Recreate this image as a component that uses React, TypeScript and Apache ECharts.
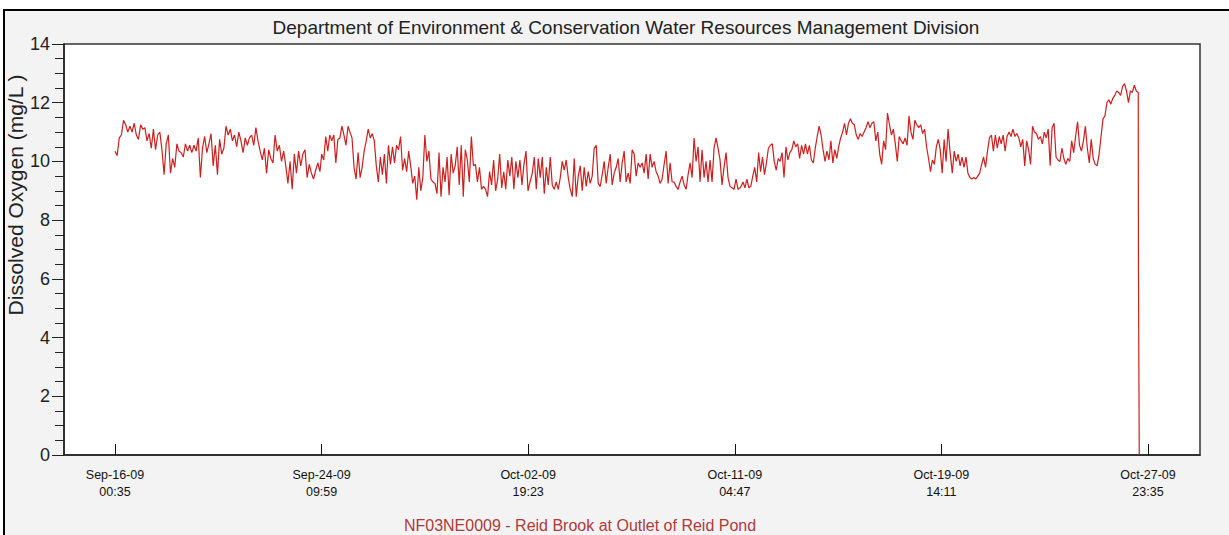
import React, { useEffect, useRef } from "react";
import * as echarts from "echarts";

// Tick labels on the time axis (hours since Sep-16-09 00:35)
const tickLabels = [
  "Sep-16-09\n00:35",
  "Sep-24-09\n09:59",
  "Oct-02-09\n19:23",
  "Oct-11-09\n04:47",
  "Oct-19-09\n14:11",
  "Oct-27-09\n23:35",
];
const tickHours = [0, 201.4, 402.8, 604.2, 805.6, 1007];

// Dissolved oxygen readings (mg/L), grouped in spans of time
const segStartHours = [0, 201.5, 406.8, 610.3, 814.3];
const segEndHours = [199.8, 404.6, 609.3, 814.0, 997.5];

const segA = [10.35, 10.2, 10.8, 10.9, 11.4, 11.25, 11.0, 11.2, 11.0, 11.3, 10.9, 10.75, 11.25, 11.1, 11.15, 10.7, 10.95, 10.45, 11.1, 10.4, 10.9, 11.0, 10.4, 9.55, 10.6, 10.9, 9.6, 10.1, 9.8, 10.6, 10.35, 10.3, 10.15, 10.6, 10.35, 10.55, 10.3, 10.55, 10.35, 10.8, 9.45, 10.45, 10.85, 10.3, 10.6, 10.95, 9.85, 10.55, 9.55, 10.75, 10.25, 10.45, 11.2, 10.9, 11.1, 10.7, 10.9, 10.5, 11.0, 10.7, 10.3, 10.8, 10.55, 10.8, 10.9, 10.55, 11.15, 10.7, 10.35, 10.05, 10.45, 9.6, 10.4, 10.1, 9.95, 10.9, 10.35, 10.55, 10.0, 10.35, 9.85, 9.25, 10.0, 9.05, 10.25, 9.6, 10.35, 9.85, 10.25, 10.4, 9.45, 9.9, 9.6, 9.4, 9.7, 9.95, 9.65];
const segB = [10.25, 10.05, 10.85, 10.35, 10.9, 10.7, 10.9, 9.95, 10.75, 10.8, 11.2, 10.9, 10.55, 11.2, 11.0, 10.8, 9.8, 9.4, 10.3, 9.45, 9.8, 10.35, 10.7, 11.1, 10.8, 10.95, 10.7, 9.85, 9.3, 10.15, 9.55, 10.25, 9.25, 10.55, 9.9, 10.5, 9.95, 10.55, 10.4, 10.85, 9.7, 10.1, 9.65, 10.35, 9.85, 9.25, 9.5, 8.7, 9.8, 9.0, 9.45, 10.9, 10.0, 10.35, 9.4, 9.3, 9.25, 8.9, 10.3, 8.8, 9.8, 9.3, 10.15, 8.85, 10.25, 9.6, 9.85, 10.5, 9.2, 10.55, 8.8, 10.4, 10.05, 9.3, 10.85, 9.85, 9.9, 9.3, 9.8, 9.05, 9.15, 9.05, 8.8, 9.65, 9.2, 10.05, 9.0, 9.4, 10.25, 9.1, 9.65, 9.05, 10.05, 9.5, 10.15, 9.05, 10.0, 9.45, 10.05, 9.2, 9.9, 10.35, 9.0, 9.3];
const segC = [9.6, 10.15, 9.05, 10.1, 9.45, 10.15, 8.9, 9.8, 9.2, 10.15, 9.2, 9.05, 9.3, 9.05, 9.45, 10.0, 9.7, 10.05, 9.45, 9.05, 8.8, 10.1, 8.8, 9.5, 9.85, 9.0, 9.8, 9.15, 9.65, 9.25, 9.5, 10.45, 10.55, 9.25, 9.15, 9.55, 10.0, 9.25, 9.8, 10.25, 9.2, 9.6, 9.8, 10.1, 9.3, 9.95, 10.35, 9.3, 9.6, 9.25, 10.4, 10.25, 9.5, 9.95, 9.8, 9.95, 9.6, 10.25, 9.4, 10.25, 9.8, 10.0, 9.65, 9.5, 9.25, 9.4, 9.9, 10.35, 9.25, 9.95, 9.3, 9.3, 9.15, 9.05, 9.3, 9.5, 9.2, 9.05, 9.55, 9.95, 9.45, 10.8, 10.0, 10.5, 9.3, 10.4, 9.45, 10.0, 9.3, 10.05, 9.3, 10.45, 10.8, 10.45, 10.05, 9.2, 9.8, 10.3, 9.45, 9.15, 9.1, 9.05, 9.4, 9.05, 9.1];
const segD = [9.15, 9.3, 9.1, 9.4, 9.1, 9.15, 9.5, 9.8, 9.3, 10.3, 9.65, 10.15, 9.55, 9.95, 10.45, 10.55, 10.6, 10.0, 9.7, 10.1, 10.0, 10.3, 9.45, 10.5, 10.05, 10.3, 10.4, 10.7, 10.5, 10.6, 10.1, 10.55, 10.25, 10.6, 10.25, 10.55, 10.05, 9.95, 10.45, 10.85, 11.2, 10.9, 10.4, 10.0, 10.35, 10.05, 10.7, 9.95, 10.4, 10.1, 10.5, 10.8, 11.0, 11.3, 10.9, 11.3, 11.45, 11.3, 11.25, 10.9, 10.75, 10.95, 10.85, 11.0, 11.15, 11.35, 11.15, 11.3, 11.35, 10.7, 11.0, 10.25, 9.9, 10.7, 10.4, 11.65, 11.25, 10.9, 11.1, 10.6, 10.0, 10.85, 10.7, 10.6, 10.8, 10.55, 11.55, 11.0, 10.75, 11.4, 11.25, 11.15, 11.25, 10.95, 11.1, 10.5, 10.1, 9.65, 10.05, 9.9, 10.5, 10.75, 10.4, 9.6, 10.75, 10.0, 11.1, 10.35];
const segE = [10.25, 9.6, 10.35, 10.0, 10.25, 9.85, 10.15, 9.8, 10.15, 9.6, 9.45, 9.4, 9.45, 9.4, 9.5, 9.6, 9.9, 10.15, 9.8, 10.35, 10.8, 10.9, 10.35, 10.9, 10.45, 10.85, 10.6, 10.9, 10.35, 10.85, 11.0, 10.85, 11.1, 10.85, 10.95, 10.8, 10.5, 10.75, 9.85, 10.7, 10.4, 9.9, 11.2, 11.0, 10.95, 10.75, 10.85, 10.6, 11.0, 10.8, 11.1, 9.85, 11.15, 11.3, 10.15, 10.05, 10.0, 10.45, 10.1, 9.9, 10.1, 10.0, 10.7, 10.3, 10.85, 11.35, 10.55, 10.35, 10.7, 11.2, 10.45, 9.95, 10.75, 10.1, 9.9, 9.85, 10.25, 10.85, 11.45, 11.55, 12.0, 12.1, 11.95, 12.15, 12.25, 12.4, 12.35, 12.25, 12.55, 12.65, 12.4, 12.0, 12.4, 12.35, 12.6, 12.4, 12.35];
// Final sensor drop-out
const dropHours = [997.7, 998.5];
const dropValues = [6.2, 0];

const segments = [segA, segB, segC, segD, segE];

const TITLE = "Department of Environment & Conservation Water Resources Management Division";
const SUBTITLE = "NF03NE0009 - Reid Brook at Outlet of Reid Pond";
const Y_NAME = "Dissolved Oxygen (mg/L )";

function buildData(): [number, number][] {
  const out: [number, number][] = [];
  segments.forEach((seg, s) => {
    const a = segStartHours[s];
    const b = segEndHours[s];
    const step = (b - a) / (seg.length - 1);
    seg.forEach((v, i) => out.push([a + i * step, v]));
  });
  dropHours.forEach((h, i) => out.push([h, dropValues[i]]));
  return out;
}

export default function App() {
  const ref = useRef<HTMLDivElement>(null);
  useEffect(() => {
    if (!ref.current) return;
    const chart = echarts.init(ref.current, null, { renderer: "svg" });
    const font = "'Liberation Sans', Arial, sans-serif";
    chart.setOption({
      animation: false,
      backgroundColor: "transparent",
      title: [
        {
          text: TITLE,
          left: 621,
          top: 13,
          textAlign: "center",
          textStyle: { fontFamily: font, fontSize: 19, fontWeight: "normal", color: "#222" },
        },
        {
          text: SUBTITLE,
          left: 575,
          top: 512,
          textAlign: "center",
          textStyle: { fontFamily: font, fontSize: 16, fontWeight: "normal", color: "#b03a3a" },
        },
      ],
      grid: {
        left: 64,
        top: 44,
        right: 29,
        bottom: 80,
        show: true,
        backgroundColor: "#ffffff",
        borderColor: "#333",
        borderWidth: 1.5,
        outerBoundsMode: "none",
      },
      xAxis: {
        type: "value",
        min: -49.7,
        max: 1057.7,
        splitLine: { show: false },
        axisLine: { show: true, onZero: false, lineStyle: { color: "#222", width: 1.5 } },
        axisTick: {
          show: true,
          inside: true,
          length: 11,
          customValues: tickHours,
          lineStyle: { color: "#111", width: 1 },
        },
        axisLabel: {
          customValues: tickHours,
          margin: 11,
          fontFamily: font,
          fontSize: 12.5,
          lineHeight: 17,
          color: "#111",
          formatter: (v: number) => {
            let best = 0;
            tickHours.forEach((t, i) => {
              if (Math.abs(t - v) < Math.abs(tickHours[best] - v)) best = i;
            });
            return tickLabels[best];
          },
        },
      },
      yAxis: {
        type: "value",
        min: 0,
        max: 14,
        interval: 2,
        splitLine: { show: false },
        axisLine: { show: true, onZero: false, lineStyle: { color: "#222", width: 1.5 } },
        axisTick: { show: true, inside: false, length: 12, lineStyle: { color: "#222" } },
        minorTick: { show: true, splitNumber: 4, length: 9, lineStyle: { color: "#222" } },
        axisLabel: { fontFamily: font, fontSize: 18, color: "#222", margin: 14 },
      },
      graphic: [
        {
          type: "text",
          x: 15,
          y: 195,
          rotation: Math.PI / 2,
          style: {
            text: Y_NAME,
            font: "21px 'Liberation Sans', Arial, sans-serif",
            fill: "#222",
            textAlign: "center",
            textVerticalAlign: "middle",
          },
        },
      ],
      series: [
        {
          type: "line",
          data: buildData(),
          showSymbol: false,
          symbol: "none",
          lineStyle: { color: "#cc1f1f", width: 1.2 },
          silent: true,
        },
      ],
    });
    return () => chart.dispose();
  }, []);
  return (
    <div
      style={{
        position: "fixed",
        left: 0,
        top: 0,
        width: 1229,
        height: 535,
        overflow: "hidden",
        background: "#ffffff",
      }}
    >
      <div
        style={{
          position: "absolute",
          left: 3,
          top: 9,
          width: 1260,
          height: 560,
          background: "#f3f3f3",
          borderTop: "2px solid #000",
          borderLeft: "2px solid #000",
        }}
      />
      <div ref={ref} style={{ position: "absolute", left: 0, top: 0, width: 1229, height: 535 }} />
    </div>
  );
}
